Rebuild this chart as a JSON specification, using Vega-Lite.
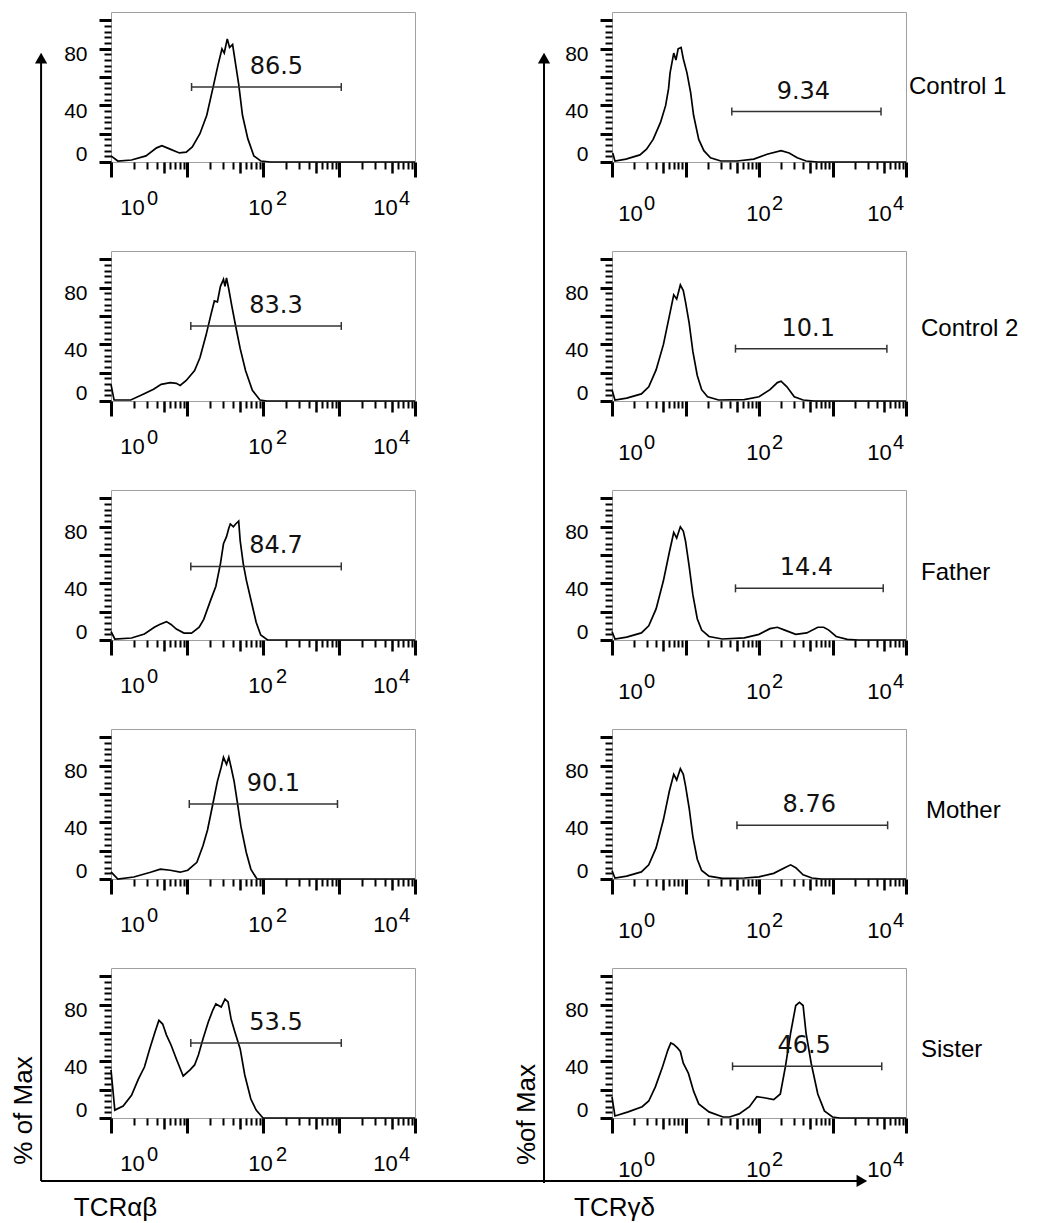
{
  "$schema": "https://vega.github.io/schema/vega-lite/v6.json",
  "background": "white",
  "padding": {"left": 9, "top": 11, "right": 5, "bottom": 2},
  "columns": 2,
  "spacing": {"row": 89, "column": 197},
  "bounds": "flush",
  "align": "each",
  "config": {"view": {"stroke": "#a0a0a0", "strokeWidth": 1}, "font": "Liberation Sans"},
  "datasets": {
    "c1_ab": [{"log_fl":0,"pct":4.3},{"log_fl":0.09,"pct":0.7},{"log_fl":0.27,"pct":1.4},{"log_fl":0.46,"pct":4.3},{"log_fl":0.6,"pct":10},{"log_fl":0.67,"pct":11.5},{"log_fl":0.77,"pct":9.3},{"log_fl":0.9,"pct":6.4},{"log_fl":0.99,"pct":7},{"log_fl":1.07,"pct":10.7},{"log_fl":1.17,"pct":20},{"log_fl":1.26,"pct":33},{"log_fl":1.34,"pct":52},{"log_fl":1.41,"pct":69},{"log_fl":1.46,"pct":80},{"log_fl":1.49,"pct":77},{"log_fl":1.53,"pct":87},{"log_fl":1.56,"pct":81},{"log_fl":1.6,"pct":83},{"log_fl":1.64,"pct":69},{"log_fl":1.68,"pct":55},{"log_fl":1.73,"pct":33},{"log_fl":1.8,"pct":16.5},{"log_fl":1.88,"pct":4.3},{"log_fl":1.97,"pct":0.7},{"log_fl":2.1,"pct":0},{"log_fl":4,"pct":0}],
    "c2_ab": [{"log_fl":0,"pct":11.8},{"log_fl":0.04,"pct":0.7},{"log_fl":0.26,"pct":0.7},{"log_fl":0.43,"pct":4.9},{"log_fl":0.56,"pct":8.3},{"log_fl":0.66,"pct":11.8},{"log_fl":0.78,"pct":13},{"log_fl":0.86,"pct":12.5},{"log_fl":0.91,"pct":11},{"log_fl":0.99,"pct":14.5},{"log_fl":1.1,"pct":21.5},{"log_fl":1.17,"pct":30.5},{"log_fl":1.25,"pct":46.4},{"log_fl":1.31,"pct":60},{"log_fl":1.36,"pct":70.7},{"log_fl":1.4,"pct":70},{"log_fl":1.44,"pct":81},{"log_fl":1.48,"pct":86},{"log_fl":1.5,"pct":81},{"log_fl":1.52,"pct":87},{"log_fl":1.55,"pct":79},{"log_fl":1.59,"pct":67},{"log_fl":1.64,"pct":53},{"log_fl":1.7,"pct":37},{"log_fl":1.77,"pct":21.5},{"log_fl":1.86,"pct":7.6},{"log_fl":1.96,"pct":0.7},{"log_fl":2.05,"pct":0},{"log_fl":4,"pct":0}],
    "fa_ab": [{"log_fl":0,"pct":6},{"log_fl":0.05,"pct":0.7},{"log_fl":0.27,"pct":1.4},{"log_fl":0.44,"pct":4.2},{"log_fl":0.57,"pct":9},{"log_fl":0.64,"pct":11},{"log_fl":0.73,"pct":13},{"log_fl":0.79,"pct":11},{"log_fl":0.86,"pct":7.7},{"log_fl":0.96,"pct":4.9},{"log_fl":1.06,"pct":4.9},{"log_fl":1.16,"pct":9},{"log_fl":1.22,"pct":14.6},{"log_fl":1.31,"pct":28},{"log_fl":1.38,"pct":38},{"log_fl":1.44,"pct":54},{"log_fl":1.48,"pct":68},{"log_fl":1.52,"pct":73},{"log_fl":1.55,"pct":79},{"log_fl":1.57,"pct":82},{"log_fl":1.61,"pct":80},{"log_fl":1.64,"pct":82},{"log_fl":1.68,"pct":84},{"log_fl":1.7,"pct":70},{"log_fl":1.74,"pct":54},{"log_fl":1.78,"pct":42.5},{"log_fl":1.84,"pct":28.6},{"log_fl":1.91,"pct":12.6},{"log_fl":1.97,"pct":3.5},{"log_fl":2.06,"pct":0},{"log_fl":4,"pct":0}],
    "mo_ab": [{"log_fl":0,"pct":5},{"log_fl":0.09,"pct":0},{"log_fl":0.3,"pct":1.4},{"log_fl":0.52,"pct":4.8},{"log_fl":0.65,"pct":7},{"log_fl":0.78,"pct":6.2},{"log_fl":0.91,"pct":4.8},{"log_fl":1.01,"pct":6.2},{"log_fl":1.13,"pct":11.8},{"log_fl":1.21,"pct":23.5},{"log_fl":1.27,"pct":34.6},{"log_fl":1.34,"pct":53},{"log_fl":1.4,"pct":69},{"log_fl":1.45,"pct":79},{"log_fl":1.48,"pct":86},{"log_fl":1.52,"pct":81},{"log_fl":1.55,"pct":86},{"log_fl":1.58,"pct":79},{"log_fl":1.62,"pct":69},{"log_fl":1.66,"pct":55},{"log_fl":1.71,"pct":37},{"log_fl":1.78,"pct":18.7},{"log_fl":1.84,"pct":7},{"log_fl":1.92,"pct":0},{"log_fl":4,"pct":0}],
    "si_ab": [{"log_fl":0,"pct":34},{"log_fl":0.05,"pct":5.6},{"log_fl":0.16,"pct":8.5},{"log_fl":0.27,"pct":16},{"log_fl":0.36,"pct":27.5},{"log_fl":0.44,"pct":36},{"log_fl":0.51,"pct":49},{"log_fl":0.58,"pct":61},{"log_fl":0.63,"pct":69},{"log_fl":0.68,"pct":66.4},{"log_fl":0.73,"pct":58.6},{"log_fl":0.79,"pct":51.6},{"log_fl":0.86,"pct":41.7},{"log_fl":0.95,"pct":29.7},{"log_fl":1.04,"pct":34},{"log_fl":1.1,"pct":37.5},{"log_fl":1.15,"pct":44.5},{"log_fl":1.21,"pct":55.8},{"log_fl":1.28,"pct":67.8},{"log_fl":1.34,"pct":76.3},{"log_fl":1.38,"pct":80.6},{"log_fl":1.45,"pct":78.4},{"log_fl":1.5,"pct":84},{"log_fl":1.54,"pct":82},{"log_fl":1.58,"pct":70},{"log_fl":1.63,"pct":60.8},{"log_fl":1.7,"pct":48.8},{"log_fl":1.76,"pct":30.4},{"log_fl":1.84,"pct":13.4},{"log_fl":1.91,"pct":5.6},{"log_fl":2.0,"pct":0},{"log_fl":4,"pct":0}],
    "c1_gd": [{"log_fl":0.01,"pct":6.4},{"log_fl":0.04,"pct":0.7},{"log_fl":0.19,"pct":2},{"log_fl":0.38,"pct":5},{"log_fl":0.47,"pct":9},{"log_fl":0.56,"pct":16},{"log_fl":0.66,"pct":28},{"log_fl":0.73,"pct":40},{"log_fl":0.77,"pct":52},{"log_fl":0.79,"pct":63},{"log_fl":0.84,"pct":77},{"log_fl":0.87,"pct":72},{"log_fl":0.9,"pct":80},{"log_fl":0.94,"pct":81},{"log_fl":0.97,"pct":73},{"log_fl":1.02,"pct":63},{"log_fl":1.07,"pct":49},{"log_fl":1.11,"pct":33},{"log_fl":1.18,"pct":16},{"log_fl":1.25,"pct":8},{"log_fl":1.34,"pct":3},{"log_fl":1.48,"pct":0.7},{"log_fl":1.7,"pct":0.7},{"log_fl":1.93,"pct":2},{"log_fl":2.11,"pct":5.5},{"log_fl":2.3,"pct":8},{"log_fl":2.41,"pct":6.4},{"log_fl":2.52,"pct":3},{"log_fl":2.64,"pct":0.7},{"log_fl":2.8,"pct":0},{"log_fl":4,"pct":0}],
    "c2_gd": [{"log_fl":0,"pct":8},{"log_fl":0.04,"pct":0.7},{"log_fl":0.2,"pct":2},{"log_fl":0.4,"pct":5},{"log_fl":0.5,"pct":10},{"log_fl":0.6,"pct":22},{"log_fl":0.7,"pct":40},{"log_fl":0.78,"pct":60},{"log_fl":0.84,"pct":75},{"log_fl":0.88,"pct":72},{"log_fl":0.93,"pct":82},{"log_fl":0.97,"pct":78},{"log_fl":1.0,"pct":70},{"log_fl":1.05,"pct":55},{"log_fl":1.1,"pct":35},{"log_fl":1.16,"pct":18},{"log_fl":1.22,"pct":8},{"log_fl":1.3,"pct":3},{"log_fl":1.45,"pct":0.7},{"log_fl":1.8,"pct":1},{"log_fl":2.0,"pct":3},{"log_fl":2.15,"pct":8},{"log_fl":2.25,"pct":13},{"log_fl":2.3,"pct":14},{"log_fl":2.38,"pct":10},{"log_fl":2.48,"pct":3},{"log_fl":2.6,"pct":0.7},{"log_fl":2.75,"pct":0},{"log_fl":4,"pct":0}],
    "fa_gd": [{"log_fl":0,"pct":6},{"log_fl":0.04,"pct":0.7},{"log_fl":0.2,"pct":2},{"log_fl":0.4,"pct":5},{"log_fl":0.5,"pct":10},{"log_fl":0.6,"pct":22},{"log_fl":0.7,"pct":42},{"log_fl":0.78,"pct":62},{"log_fl":0.84,"pct":76},{"log_fl":0.88,"pct":72},{"log_fl":0.93,"pct":80},{"log_fl":0.97,"pct":77},{"log_fl":1.0,"pct":70},{"log_fl":1.05,"pct":52},{"log_fl":1.1,"pct":32},{"log_fl":1.16,"pct":15},{"log_fl":1.22,"pct":7},{"log_fl":1.32,"pct":2.5},{"log_fl":1.5,"pct":0.7},{"log_fl":1.8,"pct":1.5},{"log_fl":2.0,"pct":4},{"log_fl":2.15,"pct":8},{"log_fl":2.25,"pct":9},{"log_fl":2.35,"pct":7},{"log_fl":2.5,"pct":4},{"log_fl":2.65,"pct":5},{"log_fl":2.8,"pct":9},{"log_fl":2.88,"pct":9},{"log_fl":2.95,"pct":7},{"log_fl":3.05,"pct":2.5},{"log_fl":3.2,"pct":0.5},{"log_fl":3.35,"pct":0},{"log_fl":4,"pct":0}],
    "mo_gd": [{"log_fl":0,"pct":6},{"log_fl":0.04,"pct":0.7},{"log_fl":0.2,"pct":2},{"log_fl":0.4,"pct":5},{"log_fl":0.5,"pct":10},{"log_fl":0.6,"pct":22},{"log_fl":0.7,"pct":42},{"log_fl":0.78,"pct":62},{"log_fl":0.84,"pct":74},{"log_fl":0.88,"pct":70},{"log_fl":0.93,"pct":78},{"log_fl":0.97,"pct":74},{"log_fl":1.0,"pct":66},{"log_fl":1.05,"pct":50},{"log_fl":1.1,"pct":30},{"log_fl":1.16,"pct":14},{"log_fl":1.22,"pct":6},{"log_fl":1.32,"pct":2},{"log_fl":1.5,"pct":0.5},{"log_fl":1.8,"pct":0.7},{"log_fl":2.0,"pct":1.5},{"log_fl":2.2,"pct":4},{"log_fl":2.35,"pct":8},{"log_fl":2.43,"pct":10},{"log_fl":2.5,"pct":8},{"log_fl":2.6,"pct":3},{"log_fl":2.72,"pct":0.7},{"log_fl":2.85,"pct":0},{"log_fl":4,"pct":0}],
    "si_gd": [{"log_fl":0,"pct":15},{"log_fl":0.04,"pct":1.4},{"log_fl":0.22,"pct":4.3},{"log_fl":0.41,"pct":8},{"log_fl":0.5,"pct":12},{"log_fl":0.59,"pct":22},{"log_fl":0.69,"pct":36.5},{"log_fl":0.76,"pct":48},{"log_fl":0.8,"pct":53},{"log_fl":0.84,"pct":52},{"log_fl":0.89,"pct":49.5},{"log_fl":0.93,"pct":47},{"log_fl":0.97,"pct":38.7},{"log_fl":1.04,"pct":31.5},{"log_fl":1.11,"pct":19},{"log_fl":1.18,"pct":10},{"log_fl":1.32,"pct":4.3},{"log_fl":1.51,"pct":0.7},{"log_fl":1.6,"pct":0.7},{"log_fl":1.73,"pct":2.9},{"log_fl":1.87,"pct":8},{"log_fl":1.97,"pct":15},{"log_fl":2.07,"pct":14.3},{"log_fl":2.2,"pct":13},{"log_fl":2.29,"pct":17},{"log_fl":2.36,"pct":36.5},{"log_fl":2.43,"pct":60},{"log_fl":2.5,"pct":79.5},{"log_fl":2.55,"pct":81.7},{"log_fl":2.6,"pct":79.5},{"log_fl":2.64,"pct":60},{"log_fl":2.71,"pct":38.7},{"log_fl":2.8,"pct":17},{"log_fl":2.89,"pct":5},{"log_fl":3.0,"pct":0.7},{"log_fl":3.1,"pct":0},{"log_fl":4,"pct":0}],
    "gates": [
      {"sample":"Control 1","tcr":"αβ","gate_x":1.06,"gate_y":53,"freq":"86.5"},{"sample":"Control 1","tcr":"αβ","gate_x":3.03,"gate_y":53,"freq":"86.5"},
      {"sample":"Control 1","tcr":"γδ","gate_x":1.63,"gate_y":35.6,"freq":"9.34"},{"sample":"Control 1","tcr":"γδ","gate_x":3.66,"gate_y":35.6,"freq":"9.34"},
      {"sample":"Control 2","tcr":"αβ","gate_x":1.05,"gate_y":53,"freq":"83.3"},{"sample":"Control 2","tcr":"αβ","gate_x":3.03,"gate_y":53,"freq":"83.3"},
      {"sample":"Control 2","tcr":"γδ","gate_x":1.68,"gate_y":37,"freq":"10.1"},{"sample":"Control 2","tcr":"γδ","gate_x":3.74,"gate_y":37,"freq":"10.1"},
      {"sample":"Father","tcr":"αβ","gate_x":1.05,"gate_y":52,"freq":"84.7"},{"sample":"Father","tcr":"αβ","gate_x":3.03,"gate_y":52,"freq":"84.7"},
      {"sample":"Father","tcr":"γδ","gate_x":1.68,"gate_y":36.5,"freq":"14.4"},{"sample":"Father","tcr":"γδ","gate_x":3.69,"gate_y":36.5,"freq":"14.4"},
      {"sample":"Mother","tcr":"αβ","gate_x":1.03,"gate_y":53,"freq":"90.1"},{"sample":"Mother","tcr":"αβ","gate_x":2.98,"gate_y":53,"freq":"90.1"},
      {"sample":"Mother","tcr":"γδ","gate_x":1.7,"gate_y":38,"freq":"8.76"},{"sample":"Mother","tcr":"γδ","gate_x":3.75,"gate_y":38,"freq":"8.76"},
      {"sample":"Sister","tcr":"αβ","gate_x":1.05,"gate_y":53,"freq":"53.5"},{"sample":"Sister","tcr":"αβ","gate_x":3.03,"gate_y":53,"freq":"53.5"},
      {"sample":"Sister","tcr":"γδ","gate_x":1.64,"gate_y":36.5,"freq":"46.5"},{"sample":"Sister","tcr":"γδ","gate_x":3.67,"gate_y":36.5,"freq":"46.5"}
    ]
  },
  "concat": [
    {
      "width": 304, "height": 150,
      "resolve": {"axis": {"x": "independent", "y": "independent"}},
      "layer": [
        {"data": {"name": "c1_ab"}, "mark": {"type": "line", "color": "black", "strokeWidth": 1.7},
         "encoding": {
           "x": {"field": "log_fl", "type": "quantitative", "scale": {"domain": [0, 4], "nice": false, "zero": false},
                 "axis": {"orient": "bottom", "title": null, "values": [0,0.301,0.477,0.602,0.699,0.778,0.845,0.903,0.954,1,1.301,1.477,1.602,1.699,1.778,1.845,1.903,1.954,2,2.301,2.477,2.602,2.699,2.778,2.845,2.903,2.954,3,3.301,3.477,3.602,3.699,3.778,3.845,3.903,3.954,4], "domain": false, "grid": false, "tickColor": "black",
                          "tickSize": {"condition": [{"test": "datum.value % 1 == 0", "value": 15}, {"test": "abs(datum.value % 1 - 0.699) < 0.01", "value": 11}], "value": 7},
                          "tickWidth": {"condition": [{"test": "datum.value % 1 == 0", "value": 3}, {"test": "abs(datum.value % 1 - 0.699) < 0.01", "value": 2.5}], "value": 2},
                          "labelExpr": "datum.value == 0 || datum.value == 2 || datum.value == 4 ? '10' : ''",
                          "labelOffset": {"condition": [{"test": "datum.value == 0", "value": 21}, {"test": "datum.value == 2", "value": -3}], "value": -30},
                          "labelPadding": 30, "labelFont": "Liberation Sans", "labelFontSize": 22, "labelColor": "black", "labelBaseline": "middle", "labelAlign": "center", "labelOverlap": false, "labelFlush": false, "labelBound": false}},
           "y": {"field": "pct", "type": "quantitative", "scale": {"domain": [0, 106], "nice": false, "zero": false},
                 "axis": {"orient": "left", "title": null, "values": [0,4,8,12,16,20,24,28,32,36,40,44,48,52,56,60,64,68,72,76,80,84,88,92,96,100], "domain": false, "grid": false, "tickColor": "black",
                          "tickSize": {"condition": [{"test": "datum.value % 20 == 0", "value": 12}], "value": 7},
                          "tickWidth": {"condition": [{"test": "datum.value % 20 == 0", "value": 3}], "value": 2},
                          "labelExpr": "datum.value == 0 || datum.value == 40 || datum.value == 80 ? datum.label : ''",
                          "labelOffset": {"condition": [{"test": "datum.value == 0", "value": -8}], "value": 6},
                          "labelPadding": 12, "labelFont": "Liberation Sans", "labelFontSize": 21, "labelColor": "black", "labelOverlap": false, "labelFlush": false, "labelBound": false}}
         }},
        {"data": {"name": "gates"}, "transform": [{"filter": "datum.sample === 'Control 1' && datum.tcr === 'αβ'"}],
         "mark": {"type": "line", "color": "#333333", "strokeWidth": 1.5},
         "encoding": {
           "x": {"field": "gate_x", "type": "quantitative",
                 "axis": {"orient": "bottom", "title": null, "values": [0, 2, 4], "domain": false, "grid": false, "ticks": false,
                          "labelExpr": "datum.value == 0 ? '0' : datum.value == 2 ? '2' : '4'",
                          "labelOffset": {"condition": [{"test": "datum.value == 0", "value": 41}, {"test": "datum.value == 2", "value": 18}], "value": -11},
                          "labelPadding": 36, "labelFont": "Liberation Sans", "labelFontSize": 20, "labelColor": "black", "labelBaseline": "middle", "labelAlign": "center", "labelOverlap": false, "labelFlush": false, "labelBound": false}},
           "y": {"field": "gate_y", "type": "quantitative", "axis": null}
         }},
        {"data": {"name": "gates"}, "transform": [{"filter": "datum.sample === 'Control 1' && datum.tcr === 'αβ'"}],
         "mark": {"type": "tick", "orient": "vertical", "size": 8, "thickness": 1.5, "color": "#333333", "opacity": 1},
         "encoding": {"x": {"field": "gate_x", "type": "quantitative", "axis": null}, "y": {"field": "gate_y", "type": "quantitative", "axis": null}}},
        {"data": {"name": "gates"}, "transform": [{"filter": "datum.sample === 'Control 1' && datum.tcr === 'αβ'"}],
         "mark": {"type": "text", "font": "DejaVu Sans", "fontSize": 24, "color": "#111111", "dy": -20, "dx": 10, "baseline": "middle"},
         "encoding": {"x": {"aggregate": "mean", "field": "gate_x", "type": "quantitative", "axis": null}, "y": {"aggregate": "mean", "field": "gate_y", "type": "quantitative", "axis": null}, "text": {"field": "freq"}}}
      ]
    },
    {
      "width": 294, "height": 150,
      "resolve": {"axis": {"x": "independent", "y": "independent"}},
      "layer": [
        {"data": {"name": "c1_gd"}, "mark": {"type": "line", "color": "black", "strokeWidth": 1.7},
         "encoding": {
           "x": {"field": "log_fl", "type": "quantitative", "scale": {"domain": [0, 4], "nice": false, "zero": false},
                 "axis": {"orient": "bottom", "title": null, "values": [0,0.301,0.477,0.602,0.699,0.778,0.845,0.903,0.954,1,1.301,1.477,1.602,1.699,1.778,1.845,1.903,1.954,2,2.301,2.477,2.602,2.699,2.778,2.845,2.903,2.954,3,3.301,3.477,3.602,3.699,3.778,3.845,3.903,3.954,4], "domain": false, "grid": false, "tickColor": "black",
                          "tickSize": {"condition": [{"test": "datum.value % 1 == 0", "value": 15}, {"test": "abs(datum.value % 1 - 0.699) < 0.01", "value": 11}], "value": 7},
                          "tickWidth": {"condition": [{"test": "datum.value % 1 == 0", "value": 3}, {"test": "abs(datum.value % 1 - 0.699) < 0.01", "value": 2.5}], "value": 2},
                          "labelExpr": "datum.value == 0 || datum.value == 2 || datum.value == 4 ? '10' : ''",
                          "labelOffset": {"condition": [{"test": "datum.value == 0", "value": 18}, {"test": "datum.value == 2", "value": -1}], "value": -27},
                          "labelPadding": 36, "labelFont": "Liberation Sans", "labelFontSize": 22, "labelColor": "black", "labelBaseline": "middle", "labelAlign": "center", "labelOverlap": false, "labelFlush": false, "labelBound": false}},
           "y": {"field": "pct", "type": "quantitative", "scale": {"domain": [0, 106], "nice": false, "zero": false},
                 "axis": {"orient": "left", "title": null, "values": [0,4,8,12,16,20,24,28,32,36,40,44,48,52,56,60,64,68,72,76,80,84,88,92,96,100], "domain": false, "grid": false, "tickColor": "black",
                          "tickSize": {"condition": [{"test": "datum.value % 20 == 0", "value": 12}], "value": 7},
                          "tickWidth": {"condition": [{"test": "datum.value % 20 == 0", "value": 3}], "value": 2},
                          "labelExpr": "datum.value == 0 || datum.value == 40 || datum.value == 80 ? datum.label : ''",
                          "labelOffset": {"condition": [{"test": "datum.value == 0", "value": -8}], "value": 6},
                          "labelPadding": 12, "labelFont": "Liberation Sans", "labelFontSize": 21, "labelColor": "black", "labelOverlap": false, "labelFlush": false, "labelBound": false}}
         }},
        {"data": {"name": "gates"}, "transform": [{"filter": "datum.sample === 'Control 1' && datum.tcr === 'γδ'"}],
         "mark": {"type": "line", "color": "#333333", "strokeWidth": 1.5},
         "encoding": {
           "x": {"field": "gate_x", "type": "quantitative",
                 "axis": {"orient": "bottom", "title": null, "values": [0, 2, 4], "domain": false, "grid": false, "ticks": false,
                          "labelExpr": "datum.value == 0 ? '0' : datum.value == 2 ? '2' : '4'",
                          "labelOffset": {"condition": [{"test": "datum.value == 0", "value": 37}, {"test": "datum.value == 2", "value": 18}], "value": -8},
                          "labelPadding": 41, "labelFont": "Liberation Sans", "labelFontSize": 20, "labelColor": "black", "labelBaseline": "middle", "labelAlign": "center", "labelOverlap": false, "labelFlush": false, "labelBound": false}},
           "y": {"field": "gate_y", "type": "quantitative", "axis": null}
         }},
        {"data": {"name": "gates"}, "transform": [{"filter": "datum.sample === 'Control 1' && datum.tcr === 'γδ'"}],
         "mark": {"type": "tick", "orient": "vertical", "size": 8, "thickness": 1.5, "color": "#333333", "opacity": 1},
         "encoding": {"x": {"field": "gate_x", "type": "quantitative", "axis": null}, "y": {"field": "gate_y", "type": "quantitative", "axis": null}}},
        {"data": {"name": "gates"}, "transform": [{"filter": "datum.sample === 'Control 1' && datum.tcr === 'γδ'"}],
         "mark": {"type": "text", "font": "DejaVu Sans", "fontSize": 24, "color": "#111111", "dy": -20, "dx": -3, "baseline": "middle"},
         "encoding": {"x": {"aggregate": "mean", "field": "gate_x", "type": "quantitative", "axis": null}, "y": {"aggregate": "mean", "field": "gate_y", "type": "quantitative", "axis": null}, "text": {"field": "freq"}}},
        {"data": {"values": [{"sample": "Control 1"}]},
         "mark": {"type": "text", "align": "left", "baseline": "middle", "dx": 3, "font": "Liberation Sans", "fontSize": 24, "color": "black"},
         "encoding": {"x": {"datum": 4, "type": "quantitative", "axis": null}, "y": {"datum": 53, "type": "quantitative", "axis": null}, "text": {"field": "sample"}}}
      ]
    },
    {
      "width": 304, "height": 150,
      "resolve": {"axis": {"x": "independent", "y": "independent"}},
      "layer": [
        {"data": {"name": "c2_ab"}, "mark": {"type": "line", "color": "black", "strokeWidth": 1.7},
         "encoding": {
           "x": {"field": "log_fl", "type": "quantitative", "scale": {"domain": [0, 4], "nice": false, "zero": false},
                 "axis": {"orient": "bottom", "title": null, "values": [0,0.301,0.477,0.602,0.699,0.778,0.845,0.903,0.954,1,1.301,1.477,1.602,1.699,1.778,1.845,1.903,1.954,2,2.301,2.477,2.602,2.699,2.778,2.845,2.903,2.954,3,3.301,3.477,3.602,3.699,3.778,3.845,3.903,3.954,4], "domain": false, "grid": false, "tickColor": "black",
                          "tickSize": {"condition": [{"test": "datum.value % 1 == 0", "value": 15}, {"test": "abs(datum.value % 1 - 0.699) < 0.01", "value": 11}], "value": 7},
                          "tickWidth": {"condition": [{"test": "datum.value % 1 == 0", "value": 3}, {"test": "abs(datum.value % 1 - 0.699) < 0.01", "value": 2.5}], "value": 2},
                          "labelExpr": "datum.value == 0 || datum.value == 2 || datum.value == 4 ? '10' : ''",
                          "labelOffset": {"condition": [{"test": "datum.value == 0", "value": 21}, {"test": "datum.value == 2", "value": -3}], "value": -30},
                          "labelPadding": 30, "labelFont": "Liberation Sans", "labelFontSize": 22, "labelColor": "black", "labelBaseline": "middle", "labelAlign": "center", "labelOverlap": false, "labelFlush": false, "labelBound": false}},
           "y": {"field": "pct", "type": "quantitative", "scale": {"domain": [0, 106], "nice": false, "zero": false},
                 "axis": {"orient": "left", "title": null, "values": [0,4,8,12,16,20,24,28,32,36,40,44,48,52,56,60,64,68,72,76,80,84,88,92,96,100], "domain": false, "grid": false, "tickColor": "black",
                          "tickSize": {"condition": [{"test": "datum.value % 20 == 0", "value": 12}], "value": 7},
                          "tickWidth": {"condition": [{"test": "datum.value % 20 == 0", "value": 3}], "value": 2},
                          "labelExpr": "datum.value == 0 || datum.value == 40 || datum.value == 80 ? datum.label : ''",
                          "labelOffset": {"condition": [{"test": "datum.value == 0", "value": -8}], "value": 6},
                          "labelPadding": 12, "labelFont": "Liberation Sans", "labelFontSize": 21, "labelColor": "black", "labelOverlap": false, "labelFlush": false, "labelBound": false}}
         }},
        {"data": {"name": "gates"}, "transform": [{"filter": "datum.sample === 'Control 2' && datum.tcr === 'αβ'"}],
         "mark": {"type": "line", "color": "#333333", "strokeWidth": 1.5},
         "encoding": {
           "x": {"field": "gate_x", "type": "quantitative",
                 "axis": {"orient": "bottom", "title": null, "values": [0, 2, 4], "domain": false, "grid": false, "ticks": false,
                          "labelExpr": "datum.value == 0 ? '0' : datum.value == 2 ? '2' : '4'",
                          "labelOffset": {"condition": [{"test": "datum.value == 0", "value": 41}, {"test": "datum.value == 2", "value": 18}], "value": -11},
                          "labelPadding": 36, "labelFont": "Liberation Sans", "labelFontSize": 20, "labelColor": "black", "labelBaseline": "middle", "labelAlign": "center", "labelOverlap": false, "labelFlush": false, "labelBound": false}},
           "y": {"field": "gate_y", "type": "quantitative", "axis": null}
         }},
        {"data": {"name": "gates"}, "transform": [{"filter": "datum.sample === 'Control 2' && datum.tcr === 'αβ'"}],
         "mark": {"type": "tick", "orient": "vertical", "size": 8, "thickness": 1.5, "color": "#333333", "opacity": 1},
         "encoding": {"x": {"field": "gate_x", "type": "quantitative", "axis": null}, "y": {"field": "gate_y", "type": "quantitative", "axis": null}}},
        {"data": {"name": "gates"}, "transform": [{"filter": "datum.sample === 'Control 2' && datum.tcr === 'αβ'"}],
         "mark": {"type": "text", "font": "DejaVu Sans", "fontSize": 24, "color": "#111111", "dy": -20, "dx": 10, "baseline": "middle"},
         "encoding": {"x": {"aggregate": "mean", "field": "gate_x", "type": "quantitative", "axis": null}, "y": {"aggregate": "mean", "field": "gate_y", "type": "quantitative", "axis": null}, "text": {"field": "freq"}}}
      ]
    },
    {
      "width": 294, "height": 150,
      "resolve": {"axis": {"x": "independent", "y": "independent"}},
      "layer": [
        {"data": {"name": "c2_gd"}, "mark": {"type": "line", "color": "black", "strokeWidth": 1.7},
         "encoding": {
           "x": {"field": "log_fl", "type": "quantitative", "scale": {"domain": [0, 4], "nice": false, "zero": false},
                 "axis": {"orient": "bottom", "title": null, "values": [0,0.301,0.477,0.602,0.699,0.778,0.845,0.903,0.954,1,1.301,1.477,1.602,1.699,1.778,1.845,1.903,1.954,2,2.301,2.477,2.602,2.699,2.778,2.845,2.903,2.954,3,3.301,3.477,3.602,3.699,3.778,3.845,3.903,3.954,4], "domain": false, "grid": false, "tickColor": "black",
                          "tickSize": {"condition": [{"test": "datum.value % 1 == 0", "value": 15}, {"test": "abs(datum.value % 1 - 0.699) < 0.01", "value": 11}], "value": 7},
                          "tickWidth": {"condition": [{"test": "datum.value % 1 == 0", "value": 3}, {"test": "abs(datum.value % 1 - 0.699) < 0.01", "value": 2.5}], "value": 2},
                          "labelExpr": "datum.value == 0 || datum.value == 2 || datum.value == 4 ? '10' : ''",
                          "labelOffset": {"condition": [{"test": "datum.value == 0", "value": 18}, {"test": "datum.value == 2", "value": -1}], "value": -27},
                          "labelPadding": 36, "labelFont": "Liberation Sans", "labelFontSize": 22, "labelColor": "black", "labelBaseline": "middle", "labelAlign": "center", "labelOverlap": false, "labelFlush": false, "labelBound": false}},
           "y": {"field": "pct", "type": "quantitative", "scale": {"domain": [0, 106], "nice": false, "zero": false},
                 "axis": {"orient": "left", "title": null, "values": [0,4,8,12,16,20,24,28,32,36,40,44,48,52,56,60,64,68,72,76,80,84,88,92,96,100], "domain": false, "grid": false, "tickColor": "black",
                          "tickSize": {"condition": [{"test": "datum.value % 20 == 0", "value": 12}], "value": 7},
                          "tickWidth": {"condition": [{"test": "datum.value % 20 == 0", "value": 3}], "value": 2},
                          "labelExpr": "datum.value == 0 || datum.value == 40 || datum.value == 80 ? datum.label : ''",
                          "labelOffset": {"condition": [{"test": "datum.value == 0", "value": -8}], "value": 6},
                          "labelPadding": 12, "labelFont": "Liberation Sans", "labelFontSize": 21, "labelColor": "black", "labelOverlap": false, "labelFlush": false, "labelBound": false}}
         }},
        {"data": {"name": "gates"}, "transform": [{"filter": "datum.sample === 'Control 2' && datum.tcr === 'γδ'"}],
         "mark": {"type": "line", "color": "#333333", "strokeWidth": 1.5},
         "encoding": {
           "x": {"field": "gate_x", "type": "quantitative",
                 "axis": {"orient": "bottom", "title": null, "values": [0, 2, 4], "domain": false, "grid": false, "ticks": false,
                          "labelExpr": "datum.value == 0 ? '0' : datum.value == 2 ? '2' : '4'",
                          "labelOffset": {"condition": [{"test": "datum.value == 0", "value": 37}, {"test": "datum.value == 2", "value": 18}], "value": -8},
                          "labelPadding": 41, "labelFont": "Liberation Sans", "labelFontSize": 20, "labelColor": "black", "labelBaseline": "middle", "labelAlign": "center", "labelOverlap": false, "labelFlush": false, "labelBound": false}},
           "y": {"field": "gate_y", "type": "quantitative", "axis": null}
         }},
        {"data": {"name": "gates"}, "transform": [{"filter": "datum.sample === 'Control 2' && datum.tcr === 'γδ'"}],
         "mark": {"type": "tick", "orient": "vertical", "size": 8, "thickness": 1.5, "color": "#333333", "opacity": 1},
         "encoding": {"x": {"field": "gate_x", "type": "quantitative", "axis": null}, "y": {"field": "gate_y", "type": "quantitative", "axis": null}}},
        {"data": {"name": "gates"}, "transform": [{"filter": "datum.sample === 'Control 2' && datum.tcr === 'γδ'"}],
         "mark": {"type": "text", "font": "DejaVu Sans", "fontSize": 24, "color": "#111111", "dy": -20, "dx": -3, "baseline": "middle"},
         "encoding": {"x": {"aggregate": "mean", "field": "gate_x", "type": "quantitative", "axis": null}, "y": {"aggregate": "mean", "field": "gate_y", "type": "quantitative", "axis": null}, "text": {"field": "freq"}}},
        {"data": {"values": [{"sample": "Control 2"}]},
         "mark": {"type": "text", "align": "left", "baseline": "middle", "dx": 15, "font": "Liberation Sans", "fontSize": 24, "color": "black"},
         "encoding": {"x": {"datum": 4, "type": "quantitative", "axis": null}, "y": {"datum": 51, "type": "quantitative", "axis": null}, "text": {"field": "sample"}}}
      ]
    },
    {
      "width": 304, "height": 150,
      "resolve": {"axis": {"x": "independent", "y": "independent"}},
      "layer": [
        {"data": {"name": "fa_ab"}, "mark": {"type": "line", "color": "black", "strokeWidth": 1.7},
         "encoding": {
           "x": {"field": "log_fl", "type": "quantitative", "scale": {"domain": [0, 4], "nice": false, "zero": false},
                 "axis": {"orient": "bottom", "title": null, "values": [0,0.301,0.477,0.602,0.699,0.778,0.845,0.903,0.954,1,1.301,1.477,1.602,1.699,1.778,1.845,1.903,1.954,2,2.301,2.477,2.602,2.699,2.778,2.845,2.903,2.954,3,3.301,3.477,3.602,3.699,3.778,3.845,3.903,3.954,4], "domain": false, "grid": false, "tickColor": "black",
                          "tickSize": {"condition": [{"test": "datum.value % 1 == 0", "value": 15}, {"test": "abs(datum.value % 1 - 0.699) < 0.01", "value": 11}], "value": 7},
                          "tickWidth": {"condition": [{"test": "datum.value % 1 == 0", "value": 3}, {"test": "abs(datum.value % 1 - 0.699) < 0.01", "value": 2.5}], "value": 2},
                          "labelExpr": "datum.value == 0 || datum.value == 2 || datum.value == 4 ? '10' : ''",
                          "labelOffset": {"condition": [{"test": "datum.value == 0", "value": 21}, {"test": "datum.value == 2", "value": -3}], "value": -30},
                          "labelPadding": 30, "labelFont": "Liberation Sans", "labelFontSize": 22, "labelColor": "black", "labelBaseline": "middle", "labelAlign": "center", "labelOverlap": false, "labelFlush": false, "labelBound": false}},
           "y": {"field": "pct", "type": "quantitative", "scale": {"domain": [0, 106], "nice": false, "zero": false},
                 "axis": {"orient": "left", "title": null, "values": [0,4,8,12,16,20,24,28,32,36,40,44,48,52,56,60,64,68,72,76,80,84,88,92,96,100], "domain": false, "grid": false, "tickColor": "black",
                          "tickSize": {"condition": [{"test": "datum.value % 20 == 0", "value": 12}], "value": 7},
                          "tickWidth": {"condition": [{"test": "datum.value % 20 == 0", "value": 3}], "value": 2},
                          "labelExpr": "datum.value == 0 || datum.value == 40 || datum.value == 80 ? datum.label : ''",
                          "labelOffset": {"condition": [{"test": "datum.value == 0", "value": -8}], "value": 6},
                          "labelPadding": 12, "labelFont": "Liberation Sans", "labelFontSize": 21, "labelColor": "black", "labelOverlap": false, "labelFlush": false, "labelBound": false}}
         }},
        {"data": {"name": "gates"}, "transform": [{"filter": "datum.sample === 'Father' && datum.tcr === 'αβ'"}],
         "mark": {"type": "line", "color": "#333333", "strokeWidth": 1.5},
         "encoding": {
           "x": {"field": "gate_x", "type": "quantitative",
                 "axis": {"orient": "bottom", "title": null, "values": [0, 2, 4], "domain": false, "grid": false, "ticks": false,
                          "labelExpr": "datum.value == 0 ? '0' : datum.value == 2 ? '2' : '4'",
                          "labelOffset": {"condition": [{"test": "datum.value == 0", "value": 41}, {"test": "datum.value == 2", "value": 18}], "value": -11},
                          "labelPadding": 36, "labelFont": "Liberation Sans", "labelFontSize": 20, "labelColor": "black", "labelBaseline": "middle", "labelAlign": "center", "labelOverlap": false, "labelFlush": false, "labelBound": false}},
           "y": {"field": "gate_y", "type": "quantitative", "axis": null}
         }},
        {"data": {"name": "gates"}, "transform": [{"filter": "datum.sample === 'Father' && datum.tcr === 'αβ'"}],
         "mark": {"type": "tick", "orient": "vertical", "size": 8, "thickness": 1.5, "color": "#333333", "opacity": 1},
         "encoding": {"x": {"field": "gate_x", "type": "quantitative", "axis": null}, "y": {"field": "gate_y", "type": "quantitative", "axis": null}}},
        {"data": {"name": "gates"}, "transform": [{"filter": "datum.sample === 'Father' && datum.tcr === 'αβ'"}],
         "mark": {"type": "text", "font": "DejaVu Sans", "fontSize": 24, "color": "#111111", "dy": -20, "dx": 10, "baseline": "middle"},
         "encoding": {"x": {"aggregate": "mean", "field": "gate_x", "type": "quantitative", "axis": null}, "y": {"aggregate": "mean", "field": "gate_y", "type": "quantitative", "axis": null}, "text": {"field": "freq"}}}
      ]
    },
    {
      "width": 294, "height": 150,
      "resolve": {"axis": {"x": "independent", "y": "independent"}},
      "layer": [
        {"data": {"name": "fa_gd"}, "mark": {"type": "line", "color": "black", "strokeWidth": 1.7},
         "encoding": {
           "x": {"field": "log_fl", "type": "quantitative", "scale": {"domain": [0, 4], "nice": false, "zero": false},
                 "axis": {"orient": "bottom", "title": null, "values": [0,0.301,0.477,0.602,0.699,0.778,0.845,0.903,0.954,1,1.301,1.477,1.602,1.699,1.778,1.845,1.903,1.954,2,2.301,2.477,2.602,2.699,2.778,2.845,2.903,2.954,3,3.301,3.477,3.602,3.699,3.778,3.845,3.903,3.954,4], "domain": false, "grid": false, "tickColor": "black",
                          "tickSize": {"condition": [{"test": "datum.value % 1 == 0", "value": 15}, {"test": "abs(datum.value % 1 - 0.699) < 0.01", "value": 11}], "value": 7},
                          "tickWidth": {"condition": [{"test": "datum.value % 1 == 0", "value": 3}, {"test": "abs(datum.value % 1 - 0.699) < 0.01", "value": 2.5}], "value": 2},
                          "labelExpr": "datum.value == 0 || datum.value == 2 || datum.value == 4 ? '10' : ''",
                          "labelOffset": {"condition": [{"test": "datum.value == 0", "value": 18}, {"test": "datum.value == 2", "value": -1}], "value": -27},
                          "labelPadding": 36, "labelFont": "Liberation Sans", "labelFontSize": 22, "labelColor": "black", "labelBaseline": "middle", "labelAlign": "center", "labelOverlap": false, "labelFlush": false, "labelBound": false}},
           "y": {"field": "pct", "type": "quantitative", "scale": {"domain": [0, 106], "nice": false, "zero": false},
                 "axis": {"orient": "left", "title": null, "values": [0,4,8,12,16,20,24,28,32,36,40,44,48,52,56,60,64,68,72,76,80,84,88,92,96,100], "domain": false, "grid": false, "tickColor": "black",
                          "tickSize": {"condition": [{"test": "datum.value % 20 == 0", "value": 12}], "value": 7},
                          "tickWidth": {"condition": [{"test": "datum.value % 20 == 0", "value": 3}], "value": 2},
                          "labelExpr": "datum.value == 0 || datum.value == 40 || datum.value == 80 ? datum.label : ''",
                          "labelOffset": {"condition": [{"test": "datum.value == 0", "value": -8}], "value": 6},
                          "labelPadding": 12, "labelFont": "Liberation Sans", "labelFontSize": 21, "labelColor": "black", "labelOverlap": false, "labelFlush": false, "labelBound": false}}
         }},
        {"data": {"name": "gates"}, "transform": [{"filter": "datum.sample === 'Father' && datum.tcr === 'γδ'"}],
         "mark": {"type": "line", "color": "#333333", "strokeWidth": 1.5},
         "encoding": {
           "x": {"field": "gate_x", "type": "quantitative",
                 "axis": {"orient": "bottom", "title": null, "values": [0, 2, 4], "domain": false, "grid": false, "ticks": false,
                          "labelExpr": "datum.value == 0 ? '0' : datum.value == 2 ? '2' : '4'",
                          "labelOffset": {"condition": [{"test": "datum.value == 0", "value": 37}, {"test": "datum.value == 2", "value": 18}], "value": -8},
                          "labelPadding": 41, "labelFont": "Liberation Sans", "labelFontSize": 20, "labelColor": "black", "labelBaseline": "middle", "labelAlign": "center", "labelOverlap": false, "labelFlush": false, "labelBound": false}},
           "y": {"field": "gate_y", "type": "quantitative", "axis": null}
         }},
        {"data": {"name": "gates"}, "transform": [{"filter": "datum.sample === 'Father' && datum.tcr === 'γδ'"}],
         "mark": {"type": "tick", "orient": "vertical", "size": 8, "thickness": 1.5, "color": "#333333", "opacity": 1},
         "encoding": {"x": {"field": "gate_x", "type": "quantitative", "axis": null}, "y": {"field": "gate_y", "type": "quantitative", "axis": null}}},
        {"data": {"name": "gates"}, "transform": [{"filter": "datum.sample === 'Father' && datum.tcr === 'γδ'"}],
         "mark": {"type": "text", "font": "DejaVu Sans", "fontSize": 24, "color": "#111111", "dy": -20, "dx": -3, "baseline": "middle"},
         "encoding": {"x": {"aggregate": "mean", "field": "gate_x", "type": "quantitative", "axis": null}, "y": {"aggregate": "mean", "field": "gate_y", "type": "quantitative", "axis": null}, "text": {"field": "freq"}}},
        {"data": {"values": [{"sample": "Father"}]},
         "mark": {"type": "text", "align": "left", "baseline": "middle", "dx": 15, "font": "Liberation Sans", "fontSize": 24, "color": "black"},
         "encoding": {"x": {"datum": 4, "type": "quantitative", "axis": null}, "y": {"datum": 47, "type": "quantitative", "axis": null}, "text": {"field": "sample"}}}
      ]
    },
    {
      "width": 304, "height": 150,
      "resolve": {"axis": {"x": "independent", "y": "independent"}},
      "layer": [
        {"data": {"name": "mo_ab"}, "mark": {"type": "line", "color": "black", "strokeWidth": 1.7},
         "encoding": {
           "x": {"field": "log_fl", "type": "quantitative", "scale": {"domain": [0, 4], "nice": false, "zero": false},
                 "axis": {"orient": "bottom", "title": null, "values": [0,0.301,0.477,0.602,0.699,0.778,0.845,0.903,0.954,1,1.301,1.477,1.602,1.699,1.778,1.845,1.903,1.954,2,2.301,2.477,2.602,2.699,2.778,2.845,2.903,2.954,3,3.301,3.477,3.602,3.699,3.778,3.845,3.903,3.954,4], "domain": false, "grid": false, "tickColor": "black",
                          "tickSize": {"condition": [{"test": "datum.value % 1 == 0", "value": 15}, {"test": "abs(datum.value % 1 - 0.699) < 0.01", "value": 11}], "value": 7},
                          "tickWidth": {"condition": [{"test": "datum.value % 1 == 0", "value": 3}, {"test": "abs(datum.value % 1 - 0.699) < 0.01", "value": 2.5}], "value": 2},
                          "labelExpr": "datum.value == 0 || datum.value == 2 || datum.value == 4 ? '10' : ''",
                          "labelOffset": {"condition": [{"test": "datum.value == 0", "value": 21}, {"test": "datum.value == 2", "value": -3}], "value": -30},
                          "labelPadding": 30, "labelFont": "Liberation Sans", "labelFontSize": 22, "labelColor": "black", "labelBaseline": "middle", "labelAlign": "center", "labelOverlap": false, "labelFlush": false, "labelBound": false}},
           "y": {"field": "pct", "type": "quantitative", "scale": {"domain": [0, 106], "nice": false, "zero": false},
                 "axis": {"orient": "left", "title": null, "values": [0,4,8,12,16,20,24,28,32,36,40,44,48,52,56,60,64,68,72,76,80,84,88,92,96,100], "domain": false, "grid": false, "tickColor": "black",
                          "tickSize": {"condition": [{"test": "datum.value % 20 == 0", "value": 12}], "value": 7},
                          "tickWidth": {"condition": [{"test": "datum.value % 20 == 0", "value": 3}], "value": 2},
                          "labelExpr": "datum.value == 0 || datum.value == 40 || datum.value == 80 ? datum.label : ''",
                          "labelOffset": {"condition": [{"test": "datum.value == 0", "value": -8}], "value": 6},
                          "labelPadding": 12, "labelFont": "Liberation Sans", "labelFontSize": 21, "labelColor": "black", "labelOverlap": false, "labelFlush": false, "labelBound": false}}
         }},
        {"data": {"name": "gates"}, "transform": [{"filter": "datum.sample === 'Mother' && datum.tcr === 'αβ'"}],
         "mark": {"type": "line", "color": "#333333", "strokeWidth": 1.5},
         "encoding": {
           "x": {"field": "gate_x", "type": "quantitative",
                 "axis": {"orient": "bottom", "title": null, "values": [0, 2, 4], "domain": false, "grid": false, "ticks": false,
                          "labelExpr": "datum.value == 0 ? '0' : datum.value == 2 ? '2' : '4'",
                          "labelOffset": {"condition": [{"test": "datum.value == 0", "value": 41}, {"test": "datum.value == 2", "value": 18}], "value": -11},
                          "labelPadding": 36, "labelFont": "Liberation Sans", "labelFontSize": 20, "labelColor": "black", "labelBaseline": "middle", "labelAlign": "center", "labelOverlap": false, "labelFlush": false, "labelBound": false}},
           "y": {"field": "gate_y", "type": "quantitative", "axis": null}
         }},
        {"data": {"name": "gates"}, "transform": [{"filter": "datum.sample === 'Mother' && datum.tcr === 'αβ'"}],
         "mark": {"type": "tick", "orient": "vertical", "size": 8, "thickness": 1.5, "color": "#333333", "opacity": 1},
         "encoding": {"x": {"field": "gate_x", "type": "quantitative", "axis": null}, "y": {"field": "gate_y", "type": "quantitative", "axis": null}}},
        {"data": {"name": "gates"}, "transform": [{"filter": "datum.sample === 'Mother' && datum.tcr === 'αβ'"}],
         "mark": {"type": "text", "font": "DejaVu Sans", "fontSize": 24, "color": "#111111", "dy": -20, "dx": 10, "baseline": "middle"},
         "encoding": {"x": {"aggregate": "mean", "field": "gate_x", "type": "quantitative", "axis": null}, "y": {"aggregate": "mean", "field": "gate_y", "type": "quantitative", "axis": null}, "text": {"field": "freq"}}}
      ]
    },
    {
      "width": 294, "height": 150,
      "resolve": {"axis": {"x": "independent", "y": "independent"}},
      "layer": [
        {"data": {"name": "mo_gd"}, "mark": {"type": "line", "color": "black", "strokeWidth": 1.7},
         "encoding": {
           "x": {"field": "log_fl", "type": "quantitative", "scale": {"domain": [0, 4], "nice": false, "zero": false},
                 "axis": {"orient": "bottom", "title": null, "values": [0,0.301,0.477,0.602,0.699,0.778,0.845,0.903,0.954,1,1.301,1.477,1.602,1.699,1.778,1.845,1.903,1.954,2,2.301,2.477,2.602,2.699,2.778,2.845,2.903,2.954,3,3.301,3.477,3.602,3.699,3.778,3.845,3.903,3.954,4], "domain": false, "grid": false, "tickColor": "black",
                          "tickSize": {"condition": [{"test": "datum.value % 1 == 0", "value": 15}, {"test": "abs(datum.value % 1 - 0.699) < 0.01", "value": 11}], "value": 7},
                          "tickWidth": {"condition": [{"test": "datum.value % 1 == 0", "value": 3}, {"test": "abs(datum.value % 1 - 0.699) < 0.01", "value": 2.5}], "value": 2},
                          "labelExpr": "datum.value == 0 || datum.value == 2 || datum.value == 4 ? '10' : ''",
                          "labelOffset": {"condition": [{"test": "datum.value == 0", "value": 18}, {"test": "datum.value == 2", "value": -1}], "value": -27},
                          "labelPadding": 36, "labelFont": "Liberation Sans", "labelFontSize": 22, "labelColor": "black", "labelBaseline": "middle", "labelAlign": "center", "labelOverlap": false, "labelFlush": false, "labelBound": false}},
           "y": {"field": "pct", "type": "quantitative", "scale": {"domain": [0, 106], "nice": false, "zero": false},
                 "axis": {"orient": "left", "title": null, "values": [0,4,8,12,16,20,24,28,32,36,40,44,48,52,56,60,64,68,72,76,80,84,88,92,96,100], "domain": false, "grid": false, "tickColor": "black",
                          "tickSize": {"condition": [{"test": "datum.value % 20 == 0", "value": 12}], "value": 7},
                          "tickWidth": {"condition": [{"test": "datum.value % 20 == 0", "value": 3}], "value": 2},
                          "labelExpr": "datum.value == 0 || datum.value == 40 || datum.value == 80 ? datum.label : ''",
                          "labelOffset": {"condition": [{"test": "datum.value == 0", "value": -8}], "value": 6},
                          "labelPadding": 12, "labelFont": "Liberation Sans", "labelFontSize": 21, "labelColor": "black", "labelOverlap": false, "labelFlush": false, "labelBound": false}}
         }},
        {"data": {"name": "gates"}, "transform": [{"filter": "datum.sample === 'Mother' && datum.tcr === 'γδ'"}],
         "mark": {"type": "line", "color": "#333333", "strokeWidth": 1.5},
         "encoding": {
           "x": {"field": "gate_x", "type": "quantitative",
                 "axis": {"orient": "bottom", "title": null, "values": [0, 2, 4], "domain": false, "grid": false, "ticks": false,
                          "labelExpr": "datum.value == 0 ? '0' : datum.value == 2 ? '2' : '4'",
                          "labelOffset": {"condition": [{"test": "datum.value == 0", "value": 37}, {"test": "datum.value == 2", "value": 18}], "value": -8},
                          "labelPadding": 41, "labelFont": "Liberation Sans", "labelFontSize": 20, "labelColor": "black", "labelBaseline": "middle", "labelAlign": "center", "labelOverlap": false, "labelFlush": false, "labelBound": false}},
           "y": {"field": "gate_y", "type": "quantitative", "axis": null}
         }},
        {"data": {"name": "gates"}, "transform": [{"filter": "datum.sample === 'Mother' && datum.tcr === 'γδ'"}],
         "mark": {"type": "tick", "orient": "vertical", "size": 8, "thickness": 1.5, "color": "#333333", "opacity": 1},
         "encoding": {"x": {"field": "gate_x", "type": "quantitative", "axis": null}, "y": {"field": "gate_y", "type": "quantitative", "axis": null}}},
        {"data": {"name": "gates"}, "transform": [{"filter": "datum.sample === 'Mother' && datum.tcr === 'γδ'"}],
         "mark": {"type": "text", "font": "DejaVu Sans", "fontSize": 24, "color": "#111111", "dy": -20, "dx": -3, "baseline": "middle"},
         "encoding": {"x": {"aggregate": "mean", "field": "gate_x", "type": "quantitative", "axis": null}, "y": {"aggregate": "mean", "field": "gate_y", "type": "quantitative", "axis": null}, "text": {"field": "freq"}}},
        {"data": {"values": [{"sample": "Mother"}]},
         "mark": {"type": "text", "align": "left", "baseline": "middle", "dx": 20, "font": "Liberation Sans", "fontSize": 24, "color": "black"},
         "encoding": {"x": {"datum": 4, "type": "quantitative", "axis": null}, "y": {"datum": 48, "type": "quantitative", "axis": null}, "text": {"field": "sample"}}}
      ]
    },
    {
      "width": 304, "height": 150,
      "resolve": {"axis": {"x": "independent", "y": "independent"}},
      "layer": [
        {"data": {"name": "si_ab"}, "mark": {"type": "line", "color": "black", "strokeWidth": 1.7},
         "encoding": {
           "x": {"field": "log_fl", "type": "quantitative", "scale": {"domain": [0, 4], "nice": false, "zero": false},
                 "axis": {"orient": "bottom", "title": "TCRαβ", "titleX": 4, "titleY": 89, "titleAlign": "center", "titleBaseline": "middle", "titleFont": "Liberation Sans", "titleFontSize": 26, "titleFontWeight": "normal", "titleColor": "black",
                          "values": [0,0.301,0.477,0.602,0.699,0.778,0.845,0.903,0.954,1,1.301,1.477,1.602,1.699,1.778,1.845,1.903,1.954,2,2.301,2.477,2.602,2.699,2.778,2.845,2.903,2.954,3,3.301,3.477,3.602,3.699,3.778,3.845,3.903,3.954,4], "domain": false, "grid": false, "tickColor": "black",
                          "tickSize": {"condition": [{"test": "datum.value % 1 == 0", "value": 15}, {"test": "abs(datum.value % 1 - 0.699) < 0.01", "value": 11}], "value": 7},
                          "tickWidth": {"condition": [{"test": "datum.value % 1 == 0", "value": 3}, {"test": "abs(datum.value % 1 - 0.699) < 0.01", "value": 2.5}], "value": 2},
                          "labelExpr": "datum.value == 0 || datum.value == 2 || datum.value == 4 ? '10' : ''",
                          "labelOffset": {"condition": [{"test": "datum.value == 0", "value": 21}, {"test": "datum.value == 2", "value": -3}], "value": -30},
                          "labelPadding": 30, "labelFont": "Liberation Sans", "labelFontSize": 22, "labelColor": "black", "labelBaseline": "middle", "labelAlign": "center", "labelOverlap": false, "labelFlush": false, "labelBound": false}},
           "y": {"field": "pct", "type": "quantitative", "scale": {"domain": [0, 106], "nice": false, "zero": false},
                 "axis": {"orient": "left", "title": "% of Max", "titleX": -88, "titleY": 142, "titleAngle": 270, "titleAlign": "center", "titleBaseline": "middle", "titleFont": "Liberation Sans", "titleFontSize": 26, "titleFontWeight": "normal", "titleColor": "black",
                          "values": [0,4,8,12,16,20,24,28,32,36,40,44,48,52,56,60,64,68,72,76,80,84,88,92,96,100], "domain": false, "grid": false, "tickColor": "black",
                          "tickSize": {"condition": [{"test": "datum.value % 20 == 0", "value": 12}], "value": 7},
                          "tickWidth": {"condition": [{"test": "datum.value % 20 == 0", "value": 3}], "value": 2},
                          "labelExpr": "datum.value == 0 || datum.value == 40 || datum.value == 80 ? datum.label : ''",
                          "labelOffset": {"condition": [{"test": "datum.value == 0", "value": -8}], "value": 6},
                          "labelPadding": 12, "labelFont": "Liberation Sans", "labelFontSize": 21, "labelColor": "black", "labelOverlap": false, "labelFlush": false, "labelBound": false}}
         }},
        {"data": {"name": "gates"}, "transform": [{"filter": "datum.sample === 'Sister' && datum.tcr === 'αβ'"}],
         "mark": {"type": "line", "color": "#333333", "strokeWidth": 1.5},
         "encoding": {
           "x": {"field": "gate_x", "type": "quantitative",
                 "axis": {"orient": "bottom", "title": null, "values": [0, 2, 4], "domain": false, "grid": false, "ticks": false,
                          "labelExpr": "datum.value == 0 ? '0' : datum.value == 2 ? '2' : '4'",
                          "labelOffset": {"condition": [{"test": "datum.value == 0", "value": 41}, {"test": "datum.value == 2", "value": 18}], "value": -11},
                          "labelPadding": 36, "labelFont": "Liberation Sans", "labelFontSize": 20, "labelColor": "black", "labelBaseline": "middle", "labelAlign": "center", "labelOverlap": false, "labelFlush": false, "labelBound": false}},
           "y": {"field": "gate_y", "type": "quantitative", "axis": null}
         }},
        {"data": {"name": "gates"}, "transform": [{"filter": "datum.sample === 'Sister' && datum.tcr === 'αβ'"}],
         "mark": {"type": "tick", "orient": "vertical", "size": 8, "thickness": 1.5, "color": "#333333", "opacity": 1},
         "encoding": {"x": {"field": "gate_x", "type": "quantitative", "axis": null}, "y": {"field": "gate_y", "type": "quantitative", "axis": null}}},
        {"data": {"name": "gates"}, "transform": [{"filter": "datum.sample === 'Sister' && datum.tcr === 'αβ'"}],
         "mark": {"type": "text", "font": "DejaVu Sans", "fontSize": 24, "color": "#111111", "dy": -20, "dx": 10, "baseline": "middle"},
         "encoding": {"x": {"aggregate": "mean", "field": "gate_x", "type": "quantitative", "axis": null}, "y": {"aggregate": "mean", "field": "gate_y", "type": "quantitative", "axis": null}, "text": {"field": "freq"}}},
        {"data": {"values": [{}]}, "mark": {"type": "rule", "color": "black", "strokeWidth": 2},
         "encoding": {"x": {"datum": -0.92, "type": "quantitative", "axis": null}, "y": {"datum": -44.5, "type": "quantitative", "axis": null}, "y2": {"datum": 746}}},
        {"data": {"values": [{}]}, "mark": {"type": "rule", "color": "black", "strokeWidth": 2},
         "encoding": {"x": {"datum": -0.92, "type": "quantitative", "axis": null}, "x2": {"datum": 9.84}, "y": {"datum": -44.5, "type": "quantitative", "axis": null}}},
        {"data": {"values": [{}]}, "mark": {"type": "point", "shape": "triangle-up", "filled": true, "color": "black", "opacity": 1, "size": 150},
         "encoding": {"x": {"datum": -0.92, "type": "quantitative", "axis": null}, "y": {"datum": 749, "type": "quantitative", "axis": null}}},
        {"data": {"values": [{}]}, "mark": {"type": "point", "shape": "triangle-right", "filled": true, "color": "black", "opacity": 1, "size": 150},
         "encoding": {"x": {"datum": 9.88, "type": "quantitative", "axis": null}, "y": {"datum": -44.5, "type": "quantitative", "axis": null}}}
      ]
    },
    {
      "width": 294, "height": 150,
      "resolve": {"axis": {"x": "independent", "y": "independent"}},
      "layer": [
        {"data": {"name": "si_gd"}, "mark": {"type": "line", "color": "black", "strokeWidth": 1.7},
         "encoding": {
           "x": {"field": "log_fl", "type": "quantitative", "scale": {"domain": [0, 4], "nice": false, "zero": false},
                 "axis": {"orient": "bottom", "title": "TCRγδ", "titleX": 2, "titleY": 89, "titleAlign": "center", "titleBaseline": "middle", "titleFont": "Liberation Sans", "titleFontSize": 26, "titleFontWeight": "normal", "titleColor": "black",
                          "values": [0,0.301,0.477,0.602,0.699,0.778,0.845,0.903,0.954,1,1.301,1.477,1.602,1.699,1.778,1.845,1.903,1.954,2,2.301,2.477,2.602,2.699,2.778,2.845,2.903,2.954,3,3.301,3.477,3.602,3.699,3.778,3.845,3.903,3.954,4], "domain": false, "grid": false, "tickColor": "black",
                          "tickSize": {"condition": [{"test": "datum.value % 1 == 0", "value": 15}, {"test": "abs(datum.value % 1 - 0.699) < 0.01", "value": 11}], "value": 7},
                          "tickWidth": {"condition": [{"test": "datum.value % 1 == 0", "value": 3}, {"test": "abs(datum.value % 1 - 0.699) < 0.01", "value": 2.5}], "value": 2},
                          "labelExpr": "datum.value == 0 || datum.value == 2 || datum.value == 4 ? '10' : ''",
                          "labelOffset": {"condition": [{"test": "datum.value == 0", "value": 18}, {"test": "datum.value == 2", "value": -1}], "value": -27},
                          "labelPadding": 36, "labelFont": "Liberation Sans", "labelFontSize": 22, "labelColor": "black", "labelBaseline": "middle", "labelAlign": "center", "labelOverlap": false, "labelFlush": false, "labelBound": false}},
           "y": {"field": "pct", "type": "quantitative", "scale": {"domain": [0, 106], "nice": false, "zero": false},
                 "axis": {"orient": "left", "title": "%of Max", "titleX": -86, "titleY": 146, "titleAngle": 270, "titleAlign": "center", "titleBaseline": "middle", "titleFont": "Liberation Sans", "titleFontSize": 26, "titleFontWeight": "normal", "titleColor": "black",
                          "values": [0,4,8,12,16,20,24,28,32,36,40,44,48,52,56,60,64,68,72,76,80,84,88,92,96,100], "domain": false, "grid": false, "tickColor": "black",
                          "tickSize": {"condition": [{"test": "datum.value % 20 == 0", "value": 12}], "value": 7},
                          "tickWidth": {"condition": [{"test": "datum.value % 20 == 0", "value": 3}], "value": 2},
                          "labelExpr": "datum.value == 0 || datum.value == 40 || datum.value == 80 ? datum.label : ''",
                          "labelOffset": {"condition": [{"test": "datum.value == 0", "value": -8}], "value": 6},
                          "labelPadding": 12, "labelFont": "Liberation Sans", "labelFontSize": 21, "labelColor": "black", "labelOverlap": false, "labelFlush": false, "labelBound": false}}
         }},
        {"data": {"name": "gates"}, "transform": [{"filter": "datum.sample === 'Sister' && datum.tcr === 'γδ'"}],
         "mark": {"type": "line", "color": "#333333", "strokeWidth": 1.5},
         "encoding": {
           "x": {"field": "gate_x", "type": "quantitative",
                 "axis": {"orient": "bottom", "title": null, "values": [0, 2, 4], "domain": false, "grid": false, "ticks": false,
                          "labelExpr": "datum.value == 0 ? '0' : datum.value == 2 ? '2' : '4'",
                          "labelOffset": {"condition": [{"test": "datum.value == 0", "value": 37}, {"test": "datum.value == 2", "value": 18}], "value": -8},
                          "labelPadding": 41, "labelFont": "Liberation Sans", "labelFontSize": 20, "labelColor": "black", "labelBaseline": "middle", "labelAlign": "center", "labelOverlap": false, "labelFlush": false, "labelBound": false}},
           "y": {"field": "gate_y", "type": "quantitative", "axis": null}
         }},
        {"data": {"name": "gates"}, "transform": [{"filter": "datum.sample === 'Sister' && datum.tcr === 'γδ'"}],
         "mark": {"type": "tick", "orient": "vertical", "size": 8, "thickness": 1.5, "color": "#333333", "opacity": 1},
         "encoding": {"x": {"field": "gate_x", "type": "quantitative", "axis": null}, "y": {"field": "gate_y", "type": "quantitative", "axis": null}}},
        {"data": {"name": "gates"}, "transform": [{"filter": "datum.sample === 'Sister' && datum.tcr === 'γδ'"}],
         "mark": {"type": "text", "font": "DejaVu Sans", "fontSize": 24, "color": "#111111", "dy": -20, "dx": -3, "baseline": "middle"},
         "encoding": {"x": {"aggregate": "mean", "field": "gate_x", "type": "quantitative", "axis": null}, "y": {"aggregate": "mean", "field": "gate_y", "type": "quantitative", "axis": null}, "text": {"field": "freq"}}},
        {"data": {"values": [{"sample": "Sister"}]},
         "mark": {"type": "text", "align": "left", "baseline": "middle", "dx": 15, "font": "Liberation Sans", "fontSize": 24, "color": "black"},
         "encoding": {"x": {"datum": 4, "type": "quantitative", "axis": null}, "y": {"datum": 48, "type": "quantitative", "axis": null}, "text": {"field": "sample"}}},
        {"data": {"values": [{}]}, "mark": {"type": "rule", "color": "black", "strokeWidth": 2},
         "encoding": {"x": {"datum": -0.925, "type": "quantitative", "axis": null}, "y": {"datum": -46, "type": "quantitative", "axis": null}, "y2": {"datum": 746}}},
        {"data": {"values": [{}]}, "mark": {"type": "point", "shape": "triangle-up", "filled": true, "color": "black", "opacity": 1, "size": 150},
         "encoding": {"x": {"datum": -0.925, "type": "quantitative", "axis": null}, "y": {"datum": 749, "type": "quantitative", "axis": null}}}
      ]
    }
  ]
}
